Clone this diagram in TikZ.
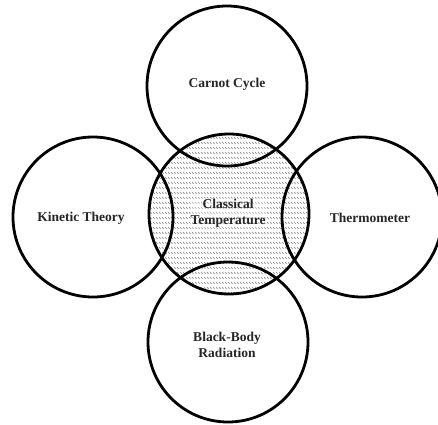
\documentclass[tikz,border=0pt]{standalone}
\usepackage{fontspec}
\setmainfont{Liberation Serif}
\usetikzlibrary{patterns}
\pgfdeclarepatternformonly{rowhatch}{\pgfpointorigin}{\pgfpoint{2.5pt}{5pt}}{\pgfpoint{2.5pt}{5pt}}{%
  \pgfsetlinewidth{0.7pt}%
  \pgfpathmoveto{\pgfpoint{0pt}{3.6pt}}%
  \pgfpathlineto{\pgfpoint{1.9pt}{1.4pt}}%
  \pgfusepath{stroke}}
\tikzset{
  ring/.style={circle, draw=black, line width=2.8pt, minimum size=160pt, inner sep=0pt},
  lbl/.style={font=\fontsize{13.5}{16}\selectfont\bfseries, text=black!85, align=center},
}
\begin{document}
\begin{tikzpicture}[x=1pt,y=-1pt]
\useasboundingbox (0,0) rectangle (438,424);
\fill[white] (0,0) rectangle (438,424);
\fill[pattern=rowhatch, pattern color=black!50] (229,214) circle (80);
\node[ring] (center) at (229,214) {};
\node[ring] (top) at (227,86) {};
\node[ring] (left) at (93,217) {};
\node[ring] (right) at (362,217) {};
\node[ring] (bottom) at (228,342) {};
\node[lbl] (carnot) at (227,84) {Carnot Cycle};
\node[lbl] (kinetic) at (81,218) {Kinetic Theory};
\node[lbl] (thermo) at (370,218) {Thermometer};
\node[lbl] (black) at (227,345) {Black-Body\\Radiation};
\node[lbl, fill=white, fill opacity=0.35, text opacity=1, inner sep=1pt] (classical) at (228,213) {Classical\\Temperature};
\end{tikzpicture}
\end{document}
